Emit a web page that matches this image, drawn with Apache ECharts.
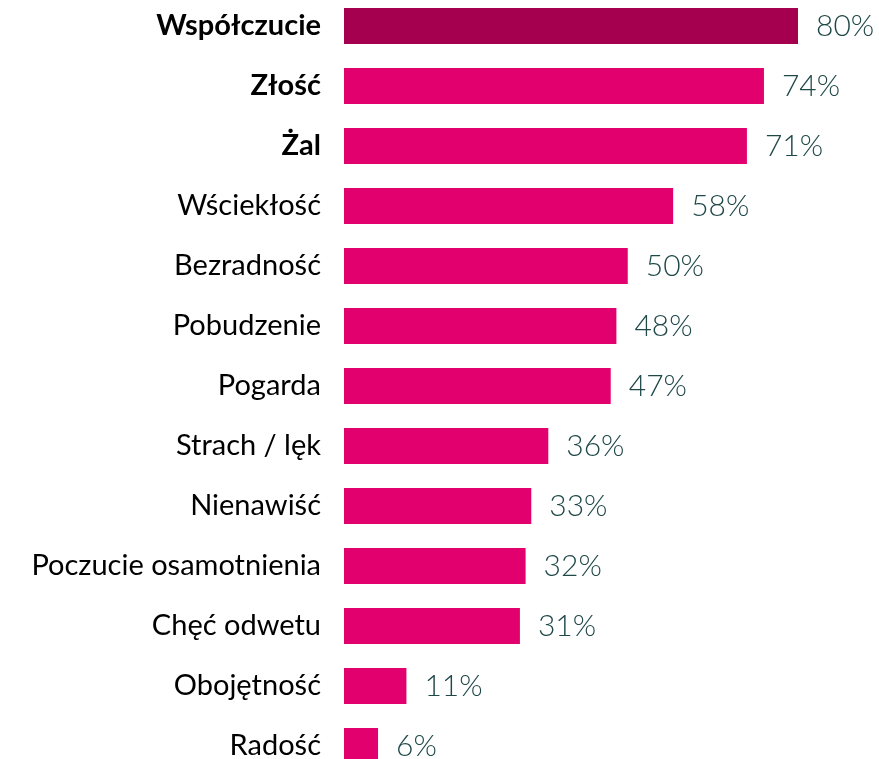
<!DOCTYPE html>
<html>
<head>
<meta charset="utf-8">
<script src="https://cdn.jsdelivr.net/npm/echarts@6/dist/echarts.min.js"></script>
<style>
  html, body { margin: 0; padding: 0; background: #fff; overflow: hidden; }
  #chart { width: 879px; height: 780px; margin-top: -4px; }
</style>
</head>
<body>
<div id="chart"></div>
<script>
var categories = ['Współczucie', 'Złość', 'Żal', 'Wściekłość', 'Bezradność', 'Pobudzenie',
    'Pogarda', 'Strach / lęk', 'Nienawiść', 'Poczucie osamotnienia', 'Chęć odwetu',
    'Obojętność', 'Radość'];
var values = [80, 74, 71, 58, 50, 48, 47, 36, 33, 32, 31, 11, 6];
var boldCategories = ['Współczucie', 'Złość', 'Żal'];

var chart = echarts.init(document.getElementById('chart'));

var barData = values.map(function (v, i) {
    return {
        value: v,
        itemStyle: { color: i === 0 ? '#a5004f' : '#e2006f' }
    };
});

var option = {
    animation: false,
    grid: { left: 344, right: 81, top: 0, bottom: 0, containLabel: false },
    xAxis: {
        type: 'value',
        min: 0,
        max: 80,
        show: false
    },
    yAxis: {
        type: 'category',
        inverse: true,
        data: categories,
        axisLine: { show: false },
        axisTick: { show: false },
        axisLabel: {
            margin: 23,
            fontSize: 29,
            fontFamily: 'Lato',
            color: '#000',
            formatter: function (v) {
                return boldCategories.indexOf(v) >= 0 ? '{b|' + v + '}' : v;
            },
            rich: {
                b: { fontSize: 29, fontFamily: 'Lato', fontWeight: 'bold', color: '#000' }
            }
        }
    },
    series: [{
        type: 'bar',
        data: barData,
        barCategoryGap: '40%',
        label: {
            show: true,
            position: 'right',
            distance: 18,
            formatter: '{c}%',
            fontFamily: 'Lato',
            fontWeight: 300,
            fontSize: 30,
            color: '#1f4849'
        }
    }]
};
chart.setOption(option);
</script>
</body>
</html>
